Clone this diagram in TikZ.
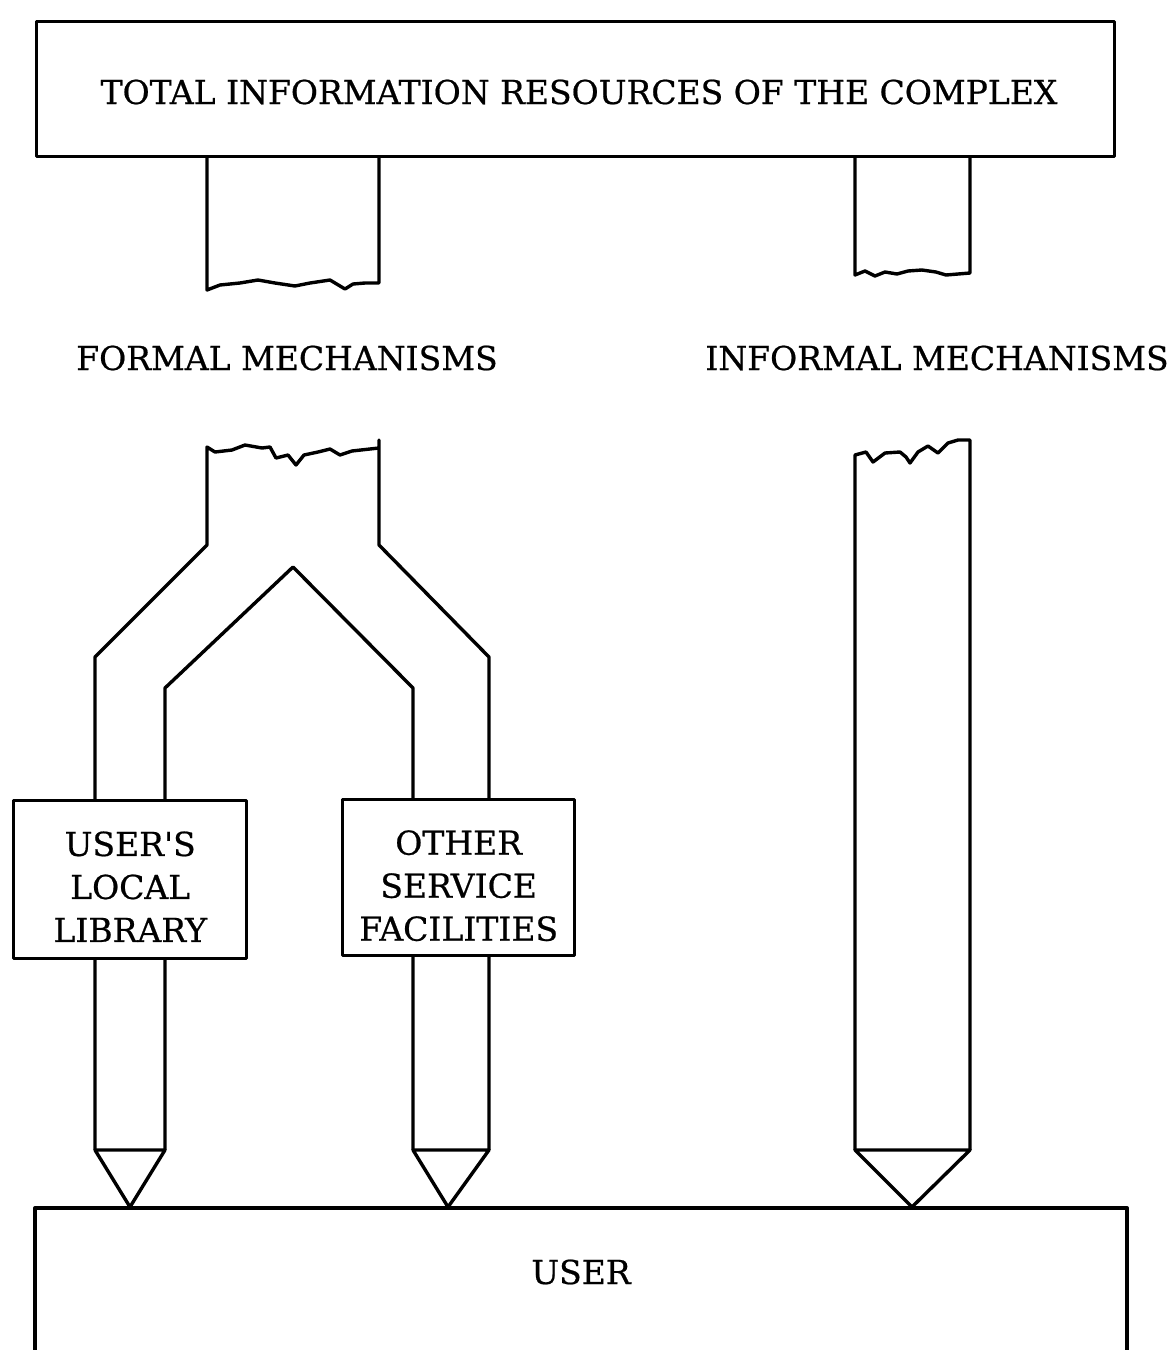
\documentclass[tikz,border=0pt]{standalone}
\usepackage{fontspec}
\setmainfont{DejaVu Serif}[Ligatures=TeXOff,FakeBold=0.6]
\begin{document}
\begin{tikzpicture}[x=1pt,y=-1pt,line width=3.4pt,line join=round,
  lbl/.style={font=\fontsize{33}{43}\selectfont,inner sep=0pt,align=center},
  box/.style={draw,fill=white,inner sep=0pt}]
\useasboundingbox (0,0) rectangle (1170,1350);
% top box
\node[box,minimum width=1078pt,minimum height=135pt,anchor=north west] (top) at (35,20) {};
\node[lbl] (toptxt) at (579,92) {TOTAL INFORMATION RESOURCES OF THE COMPLEX};
% stubs under top box
\draw (207,155) -- (207,290) -- (220,285) -- (240,283) -- (258,280) -- (275,283) -- (295,286) -- (310,283) -- (330,280) -- (345,289) -- (353,284) -- (365,283) -- (379,283) -- (379,155);
\draw (855,155) -- (855,275) -- (865,271) -- (875,276) -- (885,272) -- (897,274) -- (908,271) -- (922,270) -- (936,272) -- (946,275) -- (970,273) -- (970,155);
% mechanism labels
\node[lbl] (formal) at (287,358) {FORMAL MECHANISMS};
\node[lbl] (informal) at (937,358) {INFORMAL MECHANISMS};
% formal branching pipe (outer)
\draw (95,1150) -- (95,657) -- (207,545) -- (207,447) -- (215,452) -- (232,450) -- (245,445) -- (262,448) -- (270,447) -- (276,458) -- (288,455) -- (296,465) -- (304,455) -- (318,452) -- (330,449) -- (340,455) -- (352,451) -- (370,449) -- (379,448) -- (379,440) -- (379,545) -- (489,657) -- (489,1150);
% inner
\draw (165,1150) -- (165,688) -- (293,567) -- (413,688) -- (413,1150);
% tips
\draw (95,1150) -- (165,1150) -- (130,1207) -- cycle;
\draw (413,1150) -- (489,1150) -- (448,1207) -- cycle;
% informal pipe
\draw (855,1150) -- (855,455) -- (866,452) -- (873,462) -- (885,453) -- (900,452) -- (906,457) -- (910,463) -- (918,452) -- (928,446) -- (938,453) -- (948,443) -- (958,440) -- (970,440) -- (970,1150);
\draw (855,1150) -- (970,1150) -- (912,1207) -- cycle;
% facility boxes
\node[box,minimum width=233pt,minimum height=158pt,anchor=north west] (lib) at (12,799) {};
\node[lbl] at ([yshift=-7pt]lib.center) {USER'S\\LOCAL\\LIBRARY};
\node[box,minimum width=232pt,minimum height=156pt,anchor=north west] (oth) at (341,798) {};
\node[lbl] at ([yshift=-8pt]oth.center) {OTHER\\SERVICE\\FACILITIES};
% user box
\draw (35,1360) -- (35,1208) -- (1127,1208) -- (1127,1360);
\coordinate (userc) at (581,1272);
\node[lbl] (user) at (userc) {USER};
\end{tikzpicture}
\end{document}
